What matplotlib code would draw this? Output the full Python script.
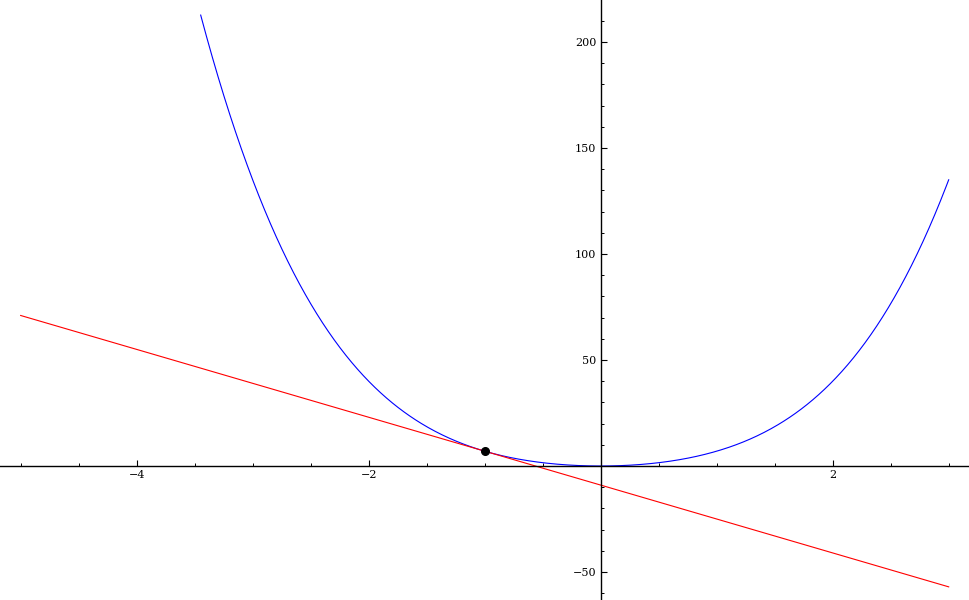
import numpy as np
import matplotlib
matplotlib.use("Agg")
from matplotlib import pyplot as plt
from matplotlib.ticker import MultipleLocator, FixedLocator

# curve y = x^4 + 6x^2 (coefficients), tangent at x = -1
curve_coeffs = [1, 0, 6, 0, 0]
tangent_coeffs = [-16, -9]
point_x = [-1]
point_y = [7]

x_range = [-5, 3]
y_clip = 214

x_major = [-4, -2, 2]
y_major = [-50, 50, 100, 150, 200]

fig = plt.figure(figsize=(9.69, 6.0), dpi=100)
ax = fig.add_axes([0, 0, 1, 1])

xs = np.linspace(x_range[0], x_range[1], 800)
ys = np.polyval(curve_coeffs, xs)
ys = np.where(ys <= y_clip, ys, np.nan)
ax.plot(xs, ys, color="#0000ff", lw=0.8)
ax.plot(xs, np.polyval(tangent_coeffs, xs), color="#ff0000", lw=0.8)
ax.plot(point_x, point_y, "o", color="black", ms=5.5, zorder=5)

ax.set_xlim(-5.178, 3.175)
ax.set_ylim(-63.2, 219.8)

# mathematica style axes crossing at the origin
for s in ["top", "right"]:
    ax.spines[s].set_visible(False)
ax.spines["left"].set_position(("data", 0))
ax.spines["bottom"].set_position(("data", 0))
ax.spines["left"].set_linewidth(1.0)
ax.spines["bottom"].set_linewidth(1.0)

ax.xaxis.set_major_locator(FixedLocator(x_major))
ax.xaxis.set_minor_locator(MultipleLocator(0.5))
ax.yaxis.set_major_locator(FixedLocator(y_major))
ax.yaxis.set_minor_locator(MultipleLocator(10))
ax.set_xticklabels(["\u22124", "\u22122", "2"])
ax.set_yticklabels(["\u221250", "50", "100", "150", "200"])

ax.tick_params(which="major", direction="in", length=4, width=0.8,
               labelsize=8, pad=3)
ax.tick_params(which="minor", direction="in", length=2.2, width=0.7)
for lab in ax.get_xticklabels() + ax.get_yticklabels():
    lab.set_family("DejaVu Serif")

fig.savefig("out.png", dpi=100)
